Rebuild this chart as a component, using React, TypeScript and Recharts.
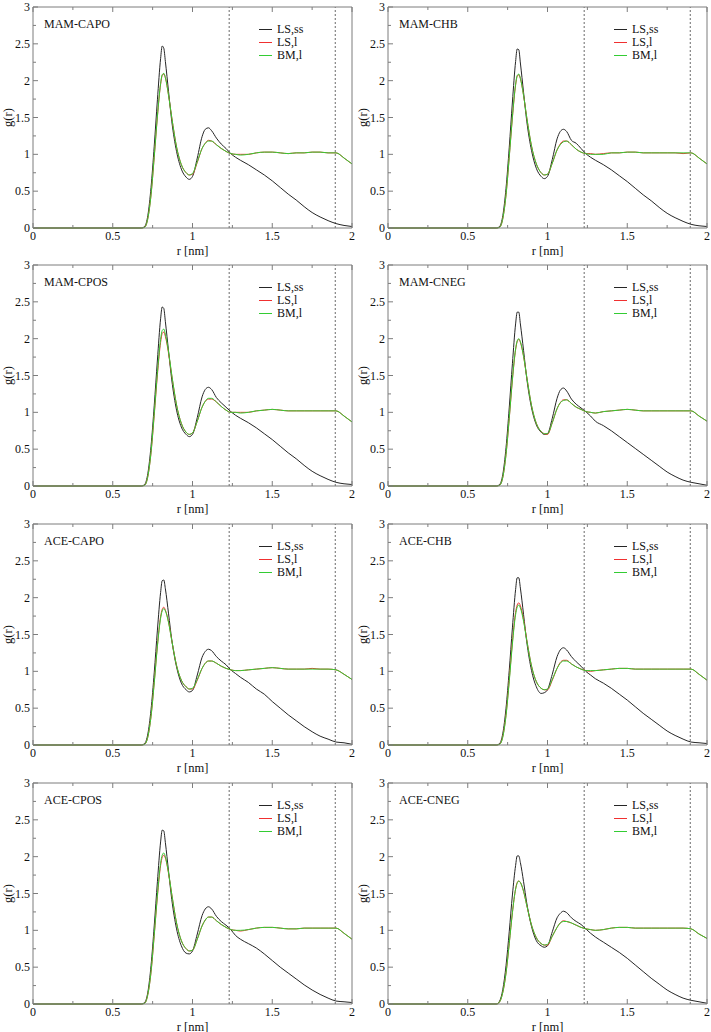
import React from 'react';
import { LineChart, Line, XAxis, YAxis, ReferenceLine, Legend } from 'recharts';

// r grid [nm] shared by all panels
const R = [
  0, 0.68, 0.70, 0.72, 0.74, 0.76, 0.78, 0.80, 0.81, 0.82, 0.83,
  0.85, 0.87, 0.90, 0.93, 0.96, 0.98, 1.00, 1.03, 1.06, 1.08,
  1.10, 1.12, 1.15, 1.18, 1.21, 1.24, 1.27, 1.30, 1.35, 1.40,
  1.45, 1.50, 1.55, 1.60, 1.65, 1.70, 1.75, 1.80, 1.85, 1.90,
  1.95, 2.00,
];

const SERIES_NAMES = ['LS,ss', 'LS,l', 'BM,l'];
const X_TICKS = [0, 0.25, 0.5, 0.75, 1, 1.25, 1.5, 1.75, 2];
const Y_TICKS = [0, 0.25, 0.5, 0.75, 1, 1.25, 1.5, 1.75, 2, 2.25, 2.5, 2.75, 3];
const CUTOFFS = [1.23, 1.895];

// MAM-CAPO
const MAM_CAPO_SS = [
  0, 0, 0.02, 0.17, 0.55, 1.11, 1.74, 2.30, 2.47, 2.44, 2.26,
  1.85, 1.45, 1.04, 0.80, 0.69, 0.66, 0.70, 0.95, 1.24, 1.34,
  1.36, 1.32, 1.22, 1.14, 1.08, 1.01, 0.96, 0.92, 0.86, 0.79,
  0.72, 0.64, 0.55, 0.46, 0.38, 0.29, 0.21, 0.15, 0.10, 0.06,
  0.035, 0.02,
];
const MAM_CAPO_LSL = [
  0, 0, 0.01, 0.13, 0.45, 0.96, 1.51, 1.95, 2.07, 2.09, 2.04,
  1.80, 1.50, 1.10, 0.86, 0.75, 0.72, 0.73, 0.89, 1.08, 1.15,
  1.19, 1.18, 1.13, 1.08, 1.04, 1.01, 1.00, 1.00, 1.00, 1.02,
  1.03, 1.03, 1.02, 1.01, 1.02, 1.02, 1.03, 1.03, 1.02, 1.02,
  0.95, 0.87,
];
const MAM_CAPO_BML = [
  0, 0, 0.01, 0.13, 0.45, 0.97, 1.52, 1.96, 2.08, 2.10, 2.04,
  1.80, 1.50, 1.10, 0.86, 0.75, 0.72, 0.74, 0.90, 1.08, 1.15,
  1.18, 1.18, 1.13, 1.08, 1.04, 1.01, 1.00, 0.99, 1.00, 1.02,
  1.03, 1.03, 1.02, 1.01, 1.02, 1.02, 1.03, 1.03, 1.02, 1.02,
  0.95, 0.87,
];

// MAM-CHB
const MAM_CHB_SS = [
  0, 0, 0.02, 0.17, 0.54, 1.09, 1.71, 2.26, 2.43, 2.42, 2.24,
  1.84, 1.45, 1.05, 0.81, 0.70, 0.67, 0.70, 0.93, 1.21, 1.31,
  1.34, 1.31, 1.19, 1.15, 1.08, 1.01, 0.96, 0.92, 0.86, 0.79,
  0.71, 0.63, 0.54, 0.45, 0.37, 0.28, 0.20, 0.14, 0.09, 0.05,
  0.03, 0.02,
];
const MAM_CHB_LSL = [
  0, 0, 0.01, 0.13, 0.45, 0.96, 1.50, 1.94, 2.06, 2.08, 2.03,
  1.80, 1.50, 1.11, 0.87, 0.75, 0.72, 0.73, 0.88, 1.06, 1.14,
  1.18, 1.18, 1.13, 1.07, 1.03, 1.01, 1.01, 1.00, 1.01, 1.02,
  1.02, 1.03, 1.03, 1.02, 1.02, 1.02, 1.02, 1.02, 1.01, 1.02,
  0.95, 0.87,
];
const MAM_CHB_BML = [
  0, 0, 0.01, 0.13, 0.45, 0.96, 1.51, 1.95, 2.07, 2.09, 2.03,
  1.80, 1.50, 1.11, 0.87, 0.75, 0.72, 0.73, 0.88, 1.06, 1.13,
  1.17, 1.18, 1.13, 1.07, 1.03, 1.01, 1.00, 1.00, 1.00, 1.02,
  1.02, 1.03, 1.03, 1.02, 1.02, 1.02, 1.02, 1.02, 1.02, 1.02,
  0.95, 0.87,
];

// MAM-CPOS
const MAM_CPOS_SS = [
  0, 0, 0.02, 0.17, 0.54, 1.09, 1.71, 2.27, 2.43, 2.41, 2.23,
  1.83, 1.44, 1.03, 0.80, 0.70, 0.67, 0.70, 0.93, 1.21, 1.31,
  1.34, 1.31, 1.20, 1.13, 1.07, 1.01, 0.96, 0.92, 0.86, 0.79,
  0.71, 0.63, 0.54, 0.45, 0.37, 0.28, 0.20, 0.14, 0.09, 0.05,
  0.03, 0.02,
];
const MAM_CPOS_LSL = [
  0, 0, 0.01, 0.13, 0.45, 0.96, 1.51, 1.95, 2.07, 2.09, 2.03,
  1.80, 1.50, 1.10, 0.85, 0.73, 0.70, 0.72, 0.88, 1.07, 1.15,
  1.18, 1.18, 1.14, 1.08, 1.03, 1.00, 1.00, 1.00, 1.00, 1.02,
  1.03, 1.04, 1.03, 1.02, 1.02, 1.02, 1.02, 1.02, 1.02, 1.02,
  0.95, 0.87,
];
const MAM_CPOS_BML = [
  0, 0, 0.01, 0.13, 0.46, 0.98, 1.54, 1.99, 2.11, 2.13, 2.06,
  1.82, 1.51, 1.10, 0.85, 0.73, 0.70, 0.72, 0.88, 1.07, 1.15,
  1.19, 1.19, 1.14, 1.08, 1.03, 1.00, 1.00, 0.99, 1.00, 1.02,
  1.03, 1.04, 1.03, 1.02, 1.02, 1.02, 1.02, 1.02, 1.02, 1.02,
  0.95, 0.87,
];

// MAM-CNEG
const MAM_CNEG_SS = [
  0, 0, 0.02, 0.16, 0.52, 1.06, 1.66, 2.20, 2.36, 2.36, 2.20,
  1.84, 1.46, 1.06, 0.83, 0.73, 0.70, 0.71, 0.92, 1.19, 1.30,
  1.33, 1.29, 1.18, 1.11, 1.06, 1.01, 0.95, 0.88, 0.82, 0.75,
  0.67, 0.59, 0.51, 0.43, 0.35, 0.27, 0.19, 0.13, 0.08, 0.05,
  0.03, 0.01,
];
const MAM_CNEG_LSL = [
  0, 0, 0.01, 0.12, 0.43, 0.91, 1.44, 1.85, 1.96, 1.99, 1.95,
  1.76, 1.48, 1.09, 0.85, 0.74, 0.71, 0.70, 0.86, 1.05, 1.13,
  1.17, 1.17, 1.12, 1.07, 1.04, 1.01, 1.00, 0.99, 1.01, 1.02,
  1.03, 1.04, 1.03, 1.02, 1.02, 1.02, 1.02, 1.02, 1.02, 1.02,
  0.95, 0.88,
];
const MAM_CNEG_BML = [
  0, 0, 0.01, 0.12, 0.43, 0.92, 1.45, 1.86, 1.97, 2.00, 1.96,
  1.76, 1.48, 1.09, 0.85, 0.74, 0.71, 0.71, 0.86, 1.05, 1.13,
  1.16, 1.17, 1.12, 1.07, 1.04, 1.01, 1.00, 0.99, 1.01, 1.02,
  1.03, 1.04, 1.03, 1.02, 1.02, 1.02, 1.02, 1.02, 1.02, 1.02,
  0.95, 0.88,
];

// ACE-CAPO
const ACE_CAPO_SS = [
  0, 0, 0.02, 0.15, 0.48, 0.98, 1.56, 2.07, 2.23, 2.24, 2.12,
  1.78, 1.43, 1.06, 0.84, 0.75, 0.72, 0.74, 0.95, 1.19, 1.27,
  1.30, 1.28, 1.20, 1.14, 1.09, 1.02, 0.97, 0.92, 0.85, 0.76,
  0.69, 0.59, 0.50, 0.41, 0.33, 0.25, 0.18, 0.12, 0.08, 0.04,
  0.03, 0.01,
];
const ACE_CAPO_LSL = [
  0, 0, 0.01, 0.11, 0.39, 0.85, 1.35, 1.74, 1.84, 1.87, 1.83,
  1.67, 1.42, 1.08, 0.88, 0.79, 0.76, 0.76, 0.88, 1.04, 1.11,
  1.14, 1.14, 1.11, 1.07, 1.04, 1.02, 1.01, 1.01, 1.02, 1.03,
  1.04, 1.05, 1.04, 1.03, 1.03, 1.03, 1.04, 1.03, 1.03, 1.02,
  0.96, 0.89,
];
const ACE_CAPO_BML = [
  0, 0, 0.01, 0.11, 0.39, 0.84, 1.34, 1.72, 1.82, 1.85, 1.82,
  1.66, 1.42, 1.08, 0.88, 0.79, 0.76, 0.77, 0.89, 1.04, 1.11,
  1.14, 1.14, 1.11, 1.07, 1.04, 1.02, 1.01, 1.01, 1.02, 1.03,
  1.04, 1.05, 1.04, 1.03, 1.03, 1.03, 1.03, 1.03, 1.03, 1.02,
  0.96, 0.89,
];

// ACE-CHB
const ACE_CHB_SS = [
  0, 0, 0.02, 0.16, 0.50, 1.01, 1.59, 2.11, 2.27, 2.27, 2.13,
  1.77, 1.40, 1.01, 0.79, 0.70, 0.71, 0.75, 0.96, 1.20, 1.29,
  1.32, 1.29, 1.20, 1.13, 1.07, 1.00, 0.95, 0.90, 0.84, 0.77,
  0.69, 0.61, 0.52, 0.43, 0.35, 0.27, 0.19, 0.13, 0.08, 0.04,
  0.03, 0.02,
];
const ACE_CHB_LSL = [
  0, 0, 0.01, 0.12, 0.41, 0.88, 1.40, 1.80, 1.90, 1.93, 1.89,
  1.70, 1.43, 1.07, 0.86, 0.77, 0.75, 0.75, 0.88, 1.04, 1.12,
  1.15, 1.15, 1.10, 1.06, 1.03, 1.01, 1.00, 1.01, 1.02, 1.03,
  1.04, 1.04, 1.03, 1.03, 1.03, 1.03, 1.03, 1.03, 1.03, 1.03,
  0.96, 0.88,
];
const ACE_CHB_BML = [
  0, 0, 0.01, 0.11, 0.40, 0.86, 1.37, 1.77, 1.87, 1.90, 1.86,
  1.68, 1.42, 1.07, 0.86, 0.77, 0.75, 0.76, 0.89, 1.04, 1.11,
  1.14, 1.14, 1.10, 1.06, 1.03, 1.01, 1.01, 1.01, 1.02, 1.03,
  1.04, 1.04, 1.03, 1.03, 1.03, 1.03, 1.03, 1.03, 1.03, 1.03,
  0.96, 0.88,
];

// ACE-CPOS
const ACE_CPOS_SS = [
  0, 0, 0.02, 0.16, 0.52, 1.06, 1.66, 2.20, 2.36, 2.35, 2.19,
  1.80, 1.42, 1.02, 0.79, 0.69, 0.68, 0.72, 0.95, 1.20, 1.29,
  1.32, 1.29, 1.19, 1.12, 1.07, 1.01, 0.93, 0.88, 0.82, 0.76,
  0.68, 0.59, 0.50, 0.42, 0.34, 0.26, 0.19, 0.13, 0.08, 0.04,
  0.03, 0.02,
];
const ACE_CPOS_LSL = [
  0, 0, 0.01, 0.13, 0.43, 0.93, 1.46, 1.88, 1.99, 2.02, 1.98,
  1.77, 1.49, 1.10, 0.86, 0.75, 0.72, 0.73, 0.88, 1.06, 1.14,
  1.18, 1.18, 1.13, 1.08, 1.04, 1.01, 1.00, 0.99, 1.01, 1.03,
  1.04, 1.04, 1.03, 1.02, 1.02, 1.03, 1.03, 1.03, 1.03, 1.03,
  0.96, 0.88,
];
const ACE_CPOS_BML = [
  0, 0, 0.01, 0.13, 0.44, 0.94, 1.48, 1.91, 2.02, 2.05, 2.00,
  1.78, 1.49, 1.10, 0.86, 0.75, 0.72, 0.73, 0.88, 1.06, 1.14,
  1.18, 1.18, 1.13, 1.08, 1.04, 1.01, 1.00, 1.00, 1.01, 1.03,
  1.04, 1.04, 1.03, 1.02, 1.02, 1.03, 1.03, 1.03, 1.03, 1.03,
  0.96, 0.88,
];

// ACE-CNEG
const ACE_CNEG_SS = [
  0, 0, 0.04, 0.20, 0.52, 0.98, 1.48, 1.88, 2.01, 2.01, 1.92,
  1.66, 1.37, 1.05, 0.86, 0.79, 0.77, 0.79, 0.98, 1.17, 1.23,
  1.26, 1.24, 1.17, 1.12, 1.08, 1.02, 0.96, 0.91, 0.84, 0.77,
  0.70, 0.62, 0.53, 0.44, 0.35, 0.27, 0.19, 0.13, 0.08, 0.05,
  0.03, 0.01,
];
const ACE_CNEG_LSL = [
  0, 0, 0.03, 0.16, 0.42, 0.82, 1.24, 1.56, 1.65, 1.67, 1.65,
  1.53, 1.34, 1.07, 0.90, 0.82, 0.80, 0.80, 0.92, 1.04, 1.10,
  1.13, 1.12, 1.10, 1.07, 1.04, 1.02, 1.01, 1.00, 1.01, 1.03,
  1.04, 1.04, 1.03, 1.03, 1.03, 1.03, 1.03, 1.03, 1.03, 1.02,
  0.95, 0.89,
];
const ACE_CNEG_BML = [
  0, 0, 0.03, 0.16, 0.42, 0.82, 1.24, 1.56, 1.64, 1.67, 1.65,
  1.53, 1.34, 1.07, 0.90, 0.82, 0.80, 0.81, 0.92, 1.04, 1.10,
  1.12, 1.12, 1.10, 1.07, 1.04, 1.02, 1.01, 1.00, 1.01, 1.03,
  1.04, 1.04, 1.03, 1.03, 1.03, 1.03, 1.03, 1.03, 1.03, 1.02,
  0.95, 0.89,
];

const PANELS = [
  { title: 'MAM-CAPO', ss: MAM_CAPO_SS, lsl: MAM_CAPO_LSL, bml: MAM_CAPO_BML },
  { title: 'MAM-CHB', ss: MAM_CHB_SS, lsl: MAM_CHB_LSL, bml: MAM_CHB_BML },
  { title: 'MAM-CPOS', ss: MAM_CPOS_SS, lsl: MAM_CPOS_LSL, bml: MAM_CPOS_BML },
  { title: 'MAM-CNEG', ss: MAM_CNEG_SS, lsl: MAM_CNEG_LSL, bml: MAM_CNEG_BML },
  { title: 'ACE-CAPO', ss: ACE_CAPO_SS, lsl: ACE_CAPO_LSL, bml: ACE_CAPO_BML },
  { title: 'ACE-CHB', ss: ACE_CHB_SS, lsl: ACE_CHB_LSL, bml: ACE_CHB_BML },
  { title: 'ACE-CPOS', ss: ACE_CPOS_SS, lsl: ACE_CPOS_LSL, bml: ACE_CPOS_BML },
  { title: 'ACE-CNEG', ss: ACE_CNEG_SS, lsl: ACE_CNEG_LSL, bml: ACE_CNEG_BML },
];

const FONT = "'Liberation Serif', 'DejaVu Serif', serif";
const FRAME = '#7d7d7d';
const COLORS = ['#262626', '#f03030', '#33cc33'];
const ROW_TOPS = [0, 258, 517, 776];
const COL_LEFTS = [0, 355];

const isMajor = (v: number) => Math.abs(v * 2 - Math.round(v * 2)) < 1e-6;
const fmt = (v: number) => String(Number(v.toFixed(2)));

const BottomTick = ({ x, y, payload }: any) => {
  const major = isMajor(payload.value);
  return (
    <g>
      <line x1={x} y1={y} x2={x} y2={y - (major ? 5 : 3)} stroke={FRAME} />
      {major && (
        <text x={x} y={y + 12} textAnchor="middle" fontSize={12} style={{ fontFamily: FONT }} fill="#111">
          {fmt(payload.value)}
        </text>
      )}
    </g>
  );
};

const TopTick = ({ x, y, payload }: any) => (
  <line x1={x} y1={y} x2={x} y2={y + (isMajor(payload.value) ? 5 : 3)} stroke={FRAME} />
);

const LeftTick = ({ x, y, payload }: any) => {
  const major = isMajor(payload.value);
  return (
    <g>
      <line x1={x} y1={y} x2={x + (major ? 5 : 3)} y2={y} stroke={FRAME} />
      {major && (
        <text x={x - 3} y={y + 4} textAnchor="end" fontSize={12} style={{ fontFamily: FONT }} fill="#111">
          {fmt(payload.value)}
        </text>
      )}
    </g>
  );
};

const RightTick = ({ x, y, payload }: any) => (
  <line x1={x} y1={y} x2={x - (isMajor(payload.value) ? 5 : 3)} y2={y} stroke={FRAME} />
);

const renderLegend = (props: any) => {
  const items = [...(props.payload || [])].sort(
    (a: any, b: any) => SERIES_NAMES.indexOf(a.value) - SERIES_NAMES.indexOf(b.value)
  );
  return (
    <div style={{ fontFamily: FONT, fontSize: 12, color: '#111' }}>
      {items.map((e: any) => (
        <div key={e.value} style={{ display: 'flex', alignItems: 'center', height: 13 }}>
          <svg width={14} height={13}>
            <line x1={0} x2={13} y1={6.5} y2={6.5} stroke={e.color} />
          </svg>
          <span style={{ marginLeft: 4, lineHeight: '13px' }}>{e.value}</span>
        </div>
      ))}
    </div>
  );
};

function Panel({ panel }: { panel: (typeof PANELS)[number] }) {
  const rows = R.map((r, i) => ({ r, ss: panel.ss[i], lsl: panel.lsl[i], bml: panel.bml[i] }));
  return (
    <div style={{ position: 'relative', width: 356, height: 258 }}>
      <LineChart width={356} height={258} data={rows} margin={{ top: 6, right: 3, bottom: 0, left: 0 }}>
        <XAxis
          xAxisId="b"
          type="number"
          dataKey="r"
          domain={[0, 2]}
          ticks={X_TICKS}
          interval={0}
          tickSize={0}
          tickMargin={0}
          tickLine={false}
          tick={BottomTick}
          axisLine={{ stroke: FRAME }}
          height={30}
          label={{ value: 'r [nm]', position: 'insideBottom', offset: 3.5, style: { fontFamily: FONT, fontSize: 12.5, fill: '#111' } }}
        />
        <XAxis
          xAxisId="t"
          orientation="top"
          type="number"
          dataKey="r"
          domain={[0, 2]}
          ticks={X_TICKS}
          interval={0}
          tickSize={0}
          tickMargin={0}
          tickLine={false}
          tick={TopTick}
          axisLine={{ stroke: FRAME }}
          height={1}
        />
        <YAxis
          yAxisId="l"
          type="number"
          domain={[0, 3]}
          ticks={Y_TICKS}
          interval={0}
          tickSize={0}
          tickMargin={0}
          tickLine={false}
          tick={LeftTick}
          axisLine={{ stroke: FRAME }}
          width={33}
          label={{ value: 'g(r)', angle: -90, position: 'insideLeft', offset: 8, style: { textAnchor: 'middle', fontFamily: FONT, fontSize: 12.5, fill: '#111' } }}
        />
        <YAxis
          yAxisId="r"
          orientation="right"
          type="number"
          domain={[0, 3]}
          ticks={Y_TICKS}
          interval={0}
          tickSize={0}
          tickMargin={0}
          tickLine={false}
          tick={RightTick}
          axisLine={{ stroke: FRAME }}
          width={1}
        />
        {CUTOFFS.map((c) => (
          <ReferenceLine key={c} xAxisId="b" yAxisId="l" x={c} stroke="#6a6a6a" strokeDasharray="2 2" />
        ))}
        <Line xAxisId="b" yAxisId="l" type="monotone" dataKey="ss" name={SERIES_NAMES[0]} stroke={COLORS[0]} strokeWidth={1} dot={false} isAnimationActive={false} />
        <Line xAxisId="b" yAxisId="l" type="monotone" dataKey="lsl" name={SERIES_NAMES[1]} stroke={COLORS[1]} strokeWidth={1} dot={false} isAnimationActive={false} />
        <Line xAxisId="b" yAxisId="l" type="monotone" dataKey="bml" name={SERIES_NAMES[2]} stroke={COLORS[2]} strokeWidth={1} dot={false} isAnimationActive={false} />
        <Legend
          layout="vertical"
          verticalAlign="middle"
          align="center"
          content={renderLegend}
          wrapperStyle={{ left: 259, top: 23, width: 'auto' }}
        />
      </LineChart>
      <div style={{ position: 'absolute', left: 44, top: 17, fontFamily: FONT, fontSize: 12, lineHeight: '14px', color: '#111' }}>
        {panel.title}
      </div>
    </div>
  );
}

export default function App() {
  return (
    <div style={{ position: 'absolute', left: 0, top: 0, width: 711, height: 1032, background: '#fff', overflow: 'hidden' }}>
      {PANELS.map((p, i) => (
        <div
          key={p.title}
          style={{ position: 'absolute', left: COL_LEFTS[i % 2], top: ROW_TOPS[Math.floor(i / 2)] }}
        >
          <Panel panel={p} />
        </div>
      ))}
    </div>
  );
}
